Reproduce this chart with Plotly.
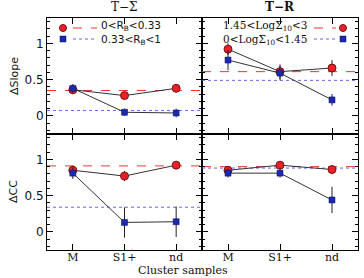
import plotly.graph_objects as go

categories = ["M", "S1+", "nd"]
xpos = [1, 2, 3]

# Top-left: T-Sigma, dSlope
ts_slope_red = [0.36, 0.28, 0.38]
ts_slope_red_err = [0.06, 0.05, 0.05]
ts_slope_blue = [0.38, 0.05, 0.04]
ts_slope_blue_err = [0.06, 0.05, 0.06]
ts_slope_ref = [0.35, 0.075]

# Top-right: T-R, dSlope
tr_slope_red = [0.92, 0.61, 0.66]
tr_slope_red_err = [0.08, 0.10, 0.11]
tr_slope_blue = [0.77, 0.59, 0.22]
tr_slope_blue_err = [0.14, 0.10, 0.08]
tr_slope_ref = [0.61, 0.49]

# Bottom-left: T-Sigma, dCC
ts_cc_red = [0.85, 0.77, 0.92]
ts_cc_red_err = [0.06, 0.07, 0.04]
ts_cc_blue = [0.81, 0.13, 0.14]
ts_cc_blue_err = [0.08, 0.21, 0.21]
ts_cc_ref = [0.91, 0.34]

# Bottom-right: T-R, dCC
tr_cc_red = [0.85, 0.92, 0.86]
tr_cc_red_err = [0.05, 0.04, 0.05]
tr_cc_blue = [0.81, 0.81, 0.44]
tr_cc_blue_err = [0.06, 0.06, 0.18]
tr_cc_ref = [0.90, 0.88]

W, H = 364, 278
xl, xm, xr = 47 / W, 202 / W, 358 / W
yt, ym, yb = 1 - 18 / H, 1 - 134 / H, 1 - 250 / H

fig = go.Figure()

panels = [
    ("x", "y", ts_slope_red, ts_slope_red_err, ts_slope_blue, ts_slope_blue_err, ts_slope_ref),
    ("x2", "y2", tr_slope_red, tr_slope_red_err, tr_slope_blue, tr_slope_blue_err, tr_slope_ref),
    ("x3", "y3", ts_cc_red, ts_cc_red_err, ts_cc_blue, ts_cc_blue_err, ts_cc_ref),
    ("x4", "y4", tr_cc_red, tr_cc_red_err, tr_cc_blue, tr_cc_blue_err, tr_cc_ref),
]

for xa, ya, r, re, b, be, ref in panels:
    fig.add_trace(go.Scatter(x=[0.5, 3.5], y=[ref[0], ref[0]], mode="lines",
                             line=dict(color="#ee3333", width=1, dash="dash"),
                             xaxis=xa, yaxis=ya, showlegend=False, hoverinfo="skip"))
    fig.add_trace(go.Scatter(x=[0.5, 3.5], y=[ref[1], ref[1]], mode="lines",
                             line=dict(color="#6666ee", width=1, dash="dot"),
                             xaxis=xa, yaxis=ya, showlegend=False, hoverinfo="skip"))
    fig.add_trace(go.Scatter(x=xpos, y=r, mode="lines+markers",
                             error_y=dict(type="data", array=re, color="#222", thickness=1, width=0),
                             line=dict(color="#333", width=1),
                             marker=dict(symbol="circle", size=8, color="#e8202a",
                                         line=dict(color="#7a1010", width=1)),
                             xaxis=xa, yaxis=ya, showlegend=False))
    fig.add_trace(go.Scatter(x=xpos, y=b, mode="lines+markers",
                             error_y=dict(type="data", array=be, color="#222", thickness=1, width=0),
                             line=dict(color="#333", width=1),
                             marker=dict(symbol="square", size=6, color="#1a2ab0",
                                         line=dict(color="#0a0f60", width=0.5)),
                             xaxis=xa, yaxis=ya, showlegend=False))

common_x = dict(range=[0.5, 3.5], tickvals=xpos, ticktext=categories, ticks="inside",
                ticklen=6, tickwidth=1, tickcolor="black", showline=True, linecolor="black",
                linewidth=1, mirror="ticks", showgrid=False, zeroline=False,
                ticklabelstandoff=-3,
                tickfont=dict(family="DejaVu Serif", size=11, color="#111"))
common_y = dict(range=[-0.25, 1.35], tickvals=[0, 0.5, 1], ticktext=["0", "0.5", "1"],
                ticks="inside", ticklen=6, tickwidth=1, tickcolor="black", showline=True,
                linecolor="black", linewidth=1, mirror="ticks", showgrid=False,
                zeroline=False, minor=dict(dtick=0.1, ticks="inside", ticklen=3,
                                           tickcolor="black", tickwidth=1),
                tickfont=dict(family="DejaVu Sans", size=12, color="#111"))

fig.update_layout(
    width=W, height=H, margin=dict(l=0, r=0, t=0, b=0),
    paper_bgcolor="white", plot_bgcolor="white",
    xaxis=dict(common_x, domain=[xl, xm], anchor="y", showticklabels=False),
    yaxis=dict(common_y, domain=[ym, yt], anchor="x"),
    xaxis2=dict(common_x, domain=[xm, xr], anchor="y2", showticklabels=False),
    yaxis2=dict(common_y, domain=[ym, yt], anchor="x2", showticklabels=False),
    xaxis3=dict(common_x, domain=[xl, xm], anchor="y3"),
    yaxis3=dict(common_y, domain=[yb, ym], anchor="x3"),
    xaxis4=dict(common_x, domain=[xm, xr], anchor="y4"),
    yaxis4=dict(common_y, domain=[yb, ym], anchor="x4", showticklabels=False),
)

ann = []
ann.append(dict(text="T−Σ", x=(xl + xm) / 2, y=yt + 2 / H, xref="paper", yref="paper",
                xanchor="center", yanchor="bottom", showarrow=False,
                font=dict(family="DejaVu Serif", size=12, color="#111")))
ann.append(dict(text="<b>T−R</b>", x=(xm + xr) / 2, y=yt + 2 / H, xref="paper", yref="paper",
                xanchor="center", yanchor="bottom", showarrow=False,
                font=dict(family="DejaVu Serif", size=12, color="#111")))
ann.append(dict(text="ΔSlope", x=14 / W, y=(ym + yt) / 2, xref="paper", yref="paper",
                textangle=-90, showarrow=False, xanchor="center", yanchor="middle",
                font=dict(family="DejaVu Sans", size=11, color="#111")))
ann.append(dict(text="ΔCC", x=14 / W, y=(yb + ym) / 2, xref="paper", yref="paper",
                textangle=-90, showarrow=False, xanchor="center", yanchor="middle",
                font=dict(family="DejaVu Sans", size=11, color="#111")))
ann.append(dict(text="Cluster samples", x=183 / W, y=1 - 278 / H, xref="paper", yref="paper",
                showarrow=False, xanchor="center", yanchor="bottom", borderpad=0,
                font=dict(family="DejaVu Serif", size=11, color="#111")))

leg_font_s = dict(family="DejaVu Sans", size=10.5, color="#111")
leg_font_r = dict(family="DejaVu Serif", size=10.5, color="#111")
ann.append(dict(text="0&lt;R<sub>B</sub>&lt;0.33", x=99 / W, y=1 - 26.5 / H, xref="paper", yref="paper",
                showarrow=False, xanchor="left", yanchor="middle", font=leg_font_s))
ann.append(dict(text="0.33&lt;R<sub>B</sub>&lt;1", x=99 / W, y=1 - 39.5 / H, xref="paper", yref="paper",
                showarrow=False, xanchor="left", yanchor="middle", font=leg_font_s))
ann.append(dict(text="1.45&lt;LogΣ<sub>10</sub>&lt;3", x=309 / W, y=1 - 26.5 / H, xref="paper", yref="paper",
                showarrow=False, xanchor="right", yanchor="middle", font=leg_font_r))
ann.append(dict(text="0&lt;LogΣ<sub>10</sub>&lt;1.45", x=309 / W, y=1 - 39.5 / H, xref="paper", yref="paper",
                showarrow=False, xanchor="right", yanchor="middle", font=leg_font_r))
fig.update_layout(annotations=ann)

shapes = []
def legline(x0, x1, y, color, dash):
    shapes.append(dict(type="line", xref="paper", yref="paper", x0=x0 / W, x1=x1 / W,
                       y0=1 - y / H, y1=1 - y / H, line=dict(color=color, width=1, dash=dash)))
def legmark(x, y, kind):
    if kind == "circle":
        r = 3.5
        shapes.append(dict(type="circle", xref="paper", yref="paper",
                           x0=(x - r) / W, x1=(x + r) / W, y0=1 - (y + r) / H, y1=1 - (y - r) / H,
                           fillcolor="#e8202a", line=dict(color="#7a1010", width=1)))
    else:
        r = 3
        shapes.append(dict(type="rect", xref="paper", yref="paper",
                           x0=(x - r) / W, x1=(x + r) / W, y0=1 - (y + r) / H, y1=1 - (y - r) / H,
                           fillcolor="#1a2ab0", line=dict(color="#0a0f60", width=0.5)))

legmark(63, 28, "circle"); legline(73, 97, 28, "#ee3333", "dash")
legmark(63, 39, "square"); legline(73, 97, 39, "#6666ee", "dot")
legmark(343, 28, "circle"); legline(314, 336, 28, "#ee3333", "dash")
legmark(343, 39, "square"); legline(314, 336, 39, "#6666ee", "dot")
fig.update_layout(shapes=shapes)

fig.write_html("out.html")
